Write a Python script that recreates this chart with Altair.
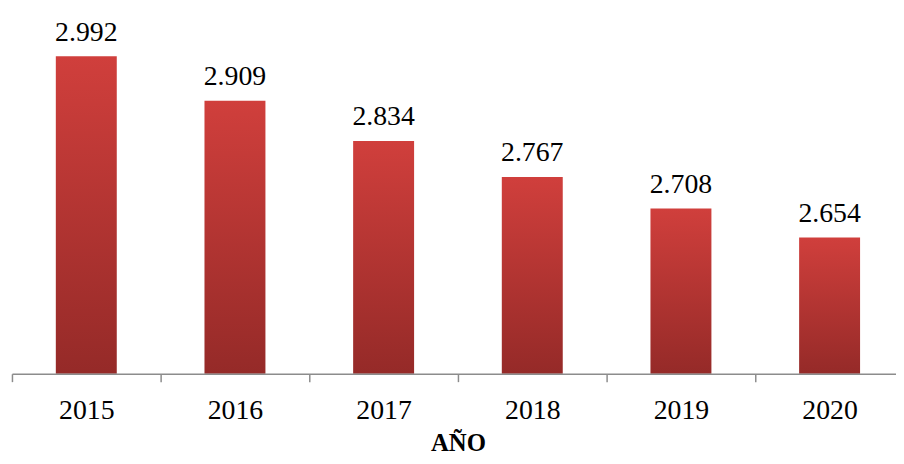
import altair as alt
import pandas as pd

years = ["2015", "2016", "2017", "2018", "2019", "2020"]
values = [2.992, 2.909, 2.834, 2.767, 2.708, 2.654]
baseline = 2.4

df = pd.DataFrame({"year": years, "value": values})

FONT = "'Liberation Serif', 'Times New Roman', Times, serif"

x = alt.X(
    "year:N",
    sort=years,
    scale=alt.Scale(range=[0, 900], paddingInner=0, paddingOuter=0),
    axis=alt.Axis(
        title="AÑO",
        titleFont=FONT,
        titleFontSize=25,
        titleFontWeight="bold",
        titleColor="#000000",
        titlePadding=6,
        labelFont=FONT,
        labelFontSize=28,
        labelColor="#000000",
        labelPadding=15,
        labelAngle=0,
        tickBand="extent",
        tickSize=8,
        tickColor="#8c8c8c",
        tickWidth=1.5,
        domainColor="#8c8c8c",
        domainWidth=1.5,
        grid=False,
        zindex=1,
    ),
)
y = alt.Y(
    "value:Q",
    scale=alt.Scale(domain=[baseline, 3.06], zero=False, nice=False),
    axis=None,
)

bars = alt.Chart(df).mark_bar(
    width=alt.RelativeBandSize(0.41),
    color=alt.Gradient(
        gradient="linear",
        x1=0, x2=0, y1=0, y2=1,
        stops=[
            alt.GradientStop(offset=0, color="#d03f3c"),
            alt.GradientStop(offset=1, color="#952a28"),
        ],
    ),
).encode(x=x, y=y, y2=alt.Y2(datum=baseline))

labels = alt.Chart(df).mark_text(
    font=FONT, fontSize=28, color="#000000", baseline="alphabetic", dy=-16
).encode(x=x, y=y, text=alt.Text("value:Q", format=".3f"))

chart = (
    alt.layer(bars, labels)
    .properties(
        width=892,
        height=357,
        autosize=alt.AutoSizeParams(type="none"),
        padding={"left": 4, "top": 10, "right": 0, "bottom": 81},
    )
    .configure_view(stroke=None)
)

chart.save("out.html", embed_options={"renderer": "svg", "actions": False})
